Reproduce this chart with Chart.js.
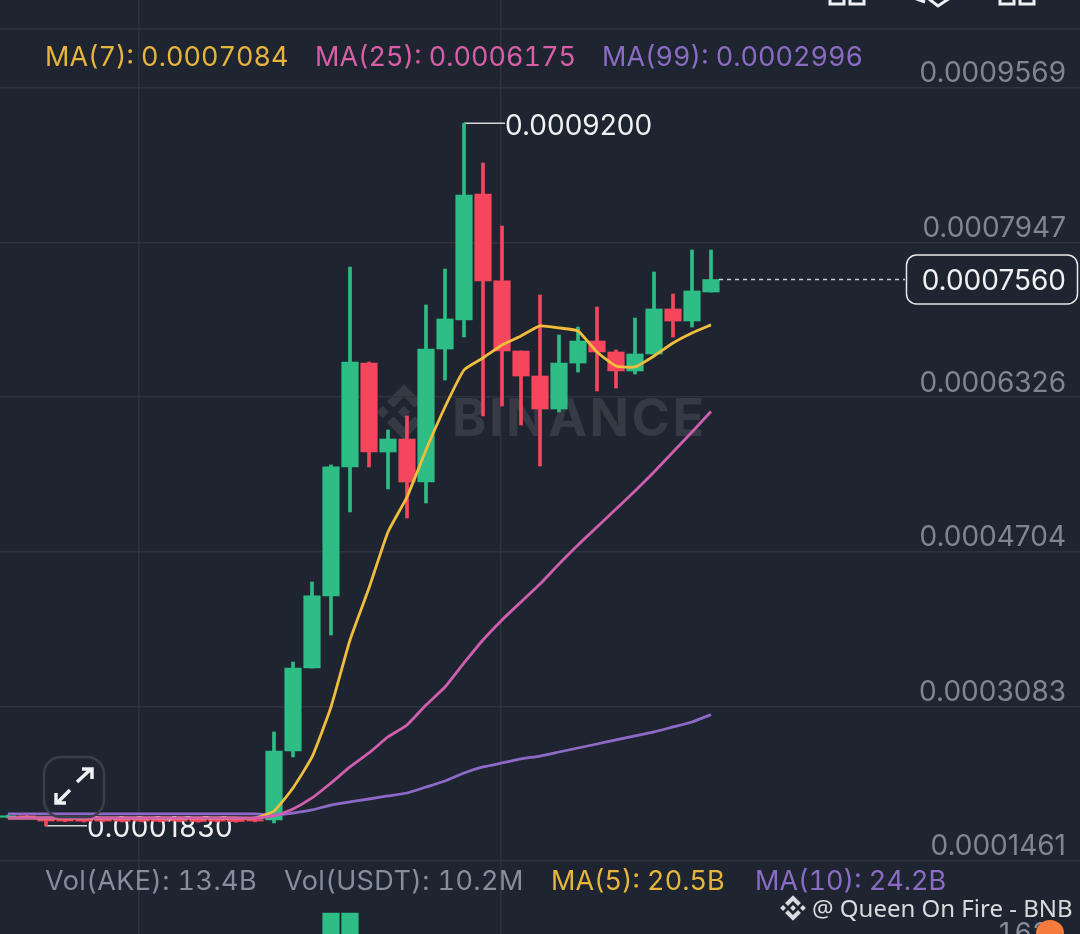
<!DOCTYPE html>
<html>
<head>
<meta charset="utf-8">
<title>AKE chart</title>
<script src="https://cdn.jsdelivr.net/npm/chart.js@4"></script>
<style>
  html, body { margin: 0; padding: 0; background: #1f2530; }
  #page { position: relative; width: 1080px; height: 934px; overflow: hidden; background: #1f2530; font-family: Inter, sans-serif; }
  #page canvas { position: absolute; left: 0; top: 0; }
  .txt { position: absolute; white-space: nowrap; font-size: 27px; line-height: 32px; color: #848e9c; z-index: 3; font-feature-settings: "tnum"; }
  .wide { letter-spacing: 0.4px; }
  .gold { color: #e7b53c; }
  .pink { color: #d85ea8; }
  .violet { color: #8a6cc4; }
  #topline { position: absolute; left: 0; top: 28px; width: 1080px; height: 2px; background: #2b3039; }
  #wmark { position: absolute; left: 452px; top: 387px; font-size: 52px; line-height: 62px; font-weight: 700; letter-spacing: 2.5px; color: #353a44; }
  #wlogo { position: absolute; left: 376px; top: 384px; width: 56px; height: 56px; fill: #353a44; }
  #credit { position: absolute; left: 812px; top: 892px; font-family: "Noto Sans", sans-serif; font-size: 24px; line-height: 32px; color: #d8dadd; white-space: nowrap; z-index: 3; }
  #clogo { position: absolute; left: 780px; top: 895px; width: 26px; height: 26px; fill: #d8dadd; z-index: 3; }
  #blob { position: absolute; left: 1036px; top: 920px; width: 28px; height: 26px; border-radius: 50%; background: #f47b3c; z-index: 4; }
  #expand { position: absolute; left: 42px; top: 755px; width: 64px; height: 64px; z-index: 3; }
  #icons { position: absolute; left: 820px; top: 0; width: 230px; height: 10px; z-index: 3; }
</style>
</head>
<body>
<div id="page">
  <div id="topline"></div>
  <svg id="wlogo" viewBox="0 0 126 126"><path d="M38.73 53.2L63 28.93l24.28 24.28 14.12-14.12L63 .68 24.61 39.07zM.68 63l14.12-14.12L28.93 63 14.8 77.12zM38.73 72.8L63 97.07 87.28 72.8l14.13 14.11L63 125.32 24.61 86.93zM97.07 63l14.12-14.12L125.32 63l-14.13 14.12zM77.32 63L63 48.67 48.69 63 63 77.31z"/></svg>
  <div id="wmark">BINANCE</div>
  <canvas id="chart" width="1080" height="934"></canvas>

  <div class="txt gold" style="left:45px;top:41px">MA(7): 0.0007084</div>
  <div class="txt pink" style="left:315px;top:41px">MA(25): 0.0006175</div>
  <div class="txt violet" style="left:602px;top:41px">MA(99): 0.0002996</div>

  <div class="txt wide" style="left:45px;top:865px">Vol(AKE): 13.4B</div>
  <div class="txt wide" style="left:284px;top:865px">Vol(USDT): 10.2M</div>
  <div class="txt gold" style="left:551px;top:865px">MA(5): 20.5B</div>
  <div class="txt violet" style="left:755px;top:865px">MA(10): 24.2B</div>

  <svg id="clogo" viewBox="0 0 126 126"><path d="M38.73 53.2L63 28.93l24.28 24.28 14.12-14.12L63 .68 24.61 39.07zM.68 63l14.12-14.12L28.93 63 14.8 77.12zM38.73 72.8L63 97.07 87.28 72.8l14.13 14.11L63 125.32 24.61 86.93zM97.07 63l14.12-14.12L125.32 63l-14.13 14.12zM77.32 63L63 48.67 48.69 63 63 77.31z"/></svg>
  <div id="credit">@ Queen On Fire - BNB</div>
  <div class="txt" style="left:997px;top:917px">162</div>
  <div id="blob"></div>

  <svg id="expand" viewBox="0 0 64 64" fill="none">
    <rect x="2" y="2" width="60" height="60" rx="17" stroke="#3b3f49" stroke-width="2.5"/>
    <path d="M35 27L49 14M40 14h10v10M28 35L15 48M14 38v10h10" stroke="#eef0f2" stroke-width="3.5"/>
  </svg>

  <svg id="icons" viewBox="0 0 230 10" fill="none" stroke="#eef0f2" stroke-width="3">
    <path d="M10 -4V4H24V-4M30 -4V4H44V-4"/>
    <path d="M94 -2L105 2M130 -2L118 6L109 -1"/>
    <path d="M180 -4V4H194V-4M200 -4V4H214V-4"/>
  </svg>
</div>

<script>
// Candles, oldest first. x position of a candle is its index
const candleIndex = [0,1,2,3,4,5,6,7,8,9,10,11,12,13,14,15,16,17,18,19,20,21,22,23,24,25,26,27,28,29,30,31,32,33,34,35,36,37];

const opens = [0.0001920,0.0001935,0.0001915,0.0001902,0.0001900,0.0001902,0.0001898,0.0001900,0.0001902,0.0001898,0.0001900,0.0001902,0.0001898,0.0001895,
  0.0001891,0.0002615,0.0003485,0.0004241,0.0005594,0.0006684,0.0005751,0.0005887,0.0005436,0.0006831,0.0007136,0.0008457,0.0007545,0.0006810,
  0.0006548,0.0006202,0.0006684,0.0006915,0.0006800,0.0006601,0.0006779,0.0007251,0.0007125,0.0007429];
const closes = [0.0001935,0.0001915,0.0001880,0.0001880,0.0001878,0.0001880,0.0001878,0.0001880,0.0001878,0.0001880,0.0001875,0.0001878,0.0001875,0.0001880,
  0.0002615,0.0003485,0.0004241,0.0005594,0.0006695,0.0005751,0.0005887,0.0005436,0.0006831,0.0007146,0.0008447,0.0007545,0.0006810,0.0006548,
  0.0006202,0.0006684,0.0006915,0.0006800,0.0006601,0.0006779,0.0007251,0.0007125,0.0007440,0.0007560];
const highs = [0.0001943,0.0001943,0.0001923,0.0001910,0.0001908,0.0001910,0.0001906,0.0001908,0.0001910,0.0001906,0.0001908,0.0001910,0.0001906,0.0001903,
  0.0002814,0.0003548,0.0004387,0.0005615,0.0007691,0.0006695,0.0005982,0.0006129,0.0007293,0.0007670,0.0009200,0.0008782,0.0008121,0.0006810,
  0.0007398,0.0006978,0.0007062,0.0007272,0.0006821,0.0007156,0.0007639,0.0007408,0.0007870,0.0007870];
const lows = [0.0001912,0.0001907,0.0001830,0.0001872,0.0001870,0.0001872,0.0001870,0.0001872,0.0001870,0.0001872,0.0001867,0.0001870,0.0001867,0.0001872,
  0.0001860,0.0002552,0.0003485,0.0003831,0.0005122,0.0005594,0.0005363,0.0005059,0.0005216,0.0006506,0.0006957,0.0006129,0.0006233,0.0006034,
  0.0005604,0.0006171,0.0006590,0.0006391,0.0006422,0.0006569,0.0006779,0.0006957,0.0007062,0.0007429];

const ma7 = [0.0001912,0.0001912,0.0001912,0.0001912,0.0001912,0.0001912,0.0001912,0.0001912,0.0001912,0.0001912,0.0001912,0.0001912,0.0001912,0.0001912,
  0.0001985,0.0002227,0.0002552,0.0003076,0.0003779,0.0004324,0.0004912,0.0005279,0.0005772,0.0006223,0.0006611,0.0006737,0.0006873,0.0006968,
  0.0007073,0.0007052,0.0007020,0.0006800,0.0006653,0.0006643,0.0006758,0.0006894,0.0006999,0.0007084];
const ma25 = [0.0001912,0.0001912,0.0001912,0.0001912,0.0001912,0.0001912,0.0001912,0.0001912,0.0001912,0.0001912,0.0001912,0.0001912,0.0001912,0.0001912,
  0.0001933,0.0002006,0.0002122,0.0002279,0.0002447,0.0002594,0.0002762,0.0002887,0.0003097,0.0003286,0.0003538,0.0003779,0.0003989,0.0004178,
  0.0004366,0.0004576,0.0004776,0.0004964,0.0005153,0.0005342,0.0005541,0.0005751,0.0005961,0.0006175];
const ma99 = [0.0001954,0.0001954,0.0001954,0.0001954,0.0001954,0.0001954,0.0001954,0.0001954,0.0001954,0.0001954,0.0001954,0.0001954,0.0001954,0.0001954,
  0.0001943,0.0001964,0.0001996,0.0002048,0.0002080,0.0002111,0.0002143,0.0002174,0.0002237,0.0002300,0.0002384,0.0002447,0.0002489,0.0002531,
  0.0002562,0.0002604,0.0002646,0.0002688,0.0002730,0.0002772,0.0002814,0.0002867,0.0002919,0.0002996];

// Only the two tallest volume bars show above the bottom of the screenshot (in billions)
const volIndex = [17, 18];
const volValues = [204, 204];

const priceTicks = [0.0009569, 0.0007947, 0.0006326, 0.0004704, 0.0003083, 0.0001461];
const gridCandles = [6.9, 25.95];
const highPrice = 0.0009200;
const highIndex = 24;
const lowPrice = 0.0001830;
const lowIndex = 2;
const lastPrice = 0.0007560;

const UP = '#2ebd85';
const DOWN = '#f6465d';
const GRID = '#2e333b';
const FONT = '28px Inter, sans-serif';

function candleColor(ctx) {
  return closes[ctx.dataIndex] >= opens[ctx.dataIndex] ? UP : DOWN;
}

function lineSet(label, values, color, order) {
  return {
    type: 'line',
    label: label,
    data: candleIndex.map(i => ({ x: i, y: values[i] })),
    borderColor: color,
    borderWidth: 2.8,
    pointRadius: 0,
    tension: 0.15,
    order: order
  };
}

// Axes take no room: the plot fills the whole canvas like the app does
function noRoom(axis) {
  axis.width = axis.isHorizontal() ? axis.width : 0;
  axis.height = axis.isHorizontal() ? 0 : axis.height;
  axis.paddingTop = axis.paddingBottom = axis.paddingLeft = axis.paddingRight = 0;
}

// High / low labels sit under the candles and lines
const markerPlugin = {
  id: 'markers',
  beforeDatasetsDraw(chart) {
    const { ctx, scales } = chart;
    const hx = scales.x.getPixelForValue(highIndex);
    const hy = scales.y.getPixelForValue(highPrice);
    const lx = scales.x.getPixelForValue(lowIndex);
    const ly = scales.y.getPixelForValue(lowPrice);
    ctx.save();
    ctx.strokeStyle = '#d5d7da';
    ctx.lineWidth = 1.5;
    ctx.beginPath();
    ctx.moveTo(hx, hy);
    ctx.lineTo(hx + 41, hy);
    ctx.moveTo(lx, ly - 6);
    ctx.lineTo(lx, ly);
    ctx.lineTo(lx + 41, ly);
    ctx.stroke();
    ctx.fillStyle = '#f0f1f3';
    ctx.font = FONT;
    ctx.textAlign = 'left';
    ctx.textBaseline = 'middle';
    ctx.fillText(highPrice.toFixed(7), hx + 41, hy + 3);
    ctx.letterSpacing = '0.6px';  // the 1 in Inter is narrower than in the app font
    ctx.fillText(lowPrice.toFixed(7), lx + 41, ly + 3);
    ctx.restore();
  },
  afterDatasetsDraw(chart) {
    // Dashed last price line and its box on the right
    const { ctx, scales } = chart;
    const py = scales.y.getPixelForValue(lastPrice);
    const px = scales.x.getPixelForValue(candleIndex[candleIndex.length - 1]);
    ctx.save();
    ctx.strokeStyle = '#c8cbd0';
    ctx.lineWidth = 1.5;
    ctx.setLineDash([4, 4]);
    ctx.beginPath();
    ctx.moveTo(px + 8, py);
    ctx.lineTo(905, py);
    ctx.stroke();
    ctx.setLineDash([]);
    ctx.fillStyle = '#1f2530';
    ctx.strokeStyle = '#e6e7e9';
    ctx.beginPath();
    ctx.roundRect(906.5, py - 24.5, 171, 49, 10);
    ctx.fill();
    ctx.stroke();
    ctx.fillStyle = '#f0f1f3';
    ctx.font = FONT;
    ctx.textAlign = 'right';
    ctx.textBaseline = 'middle';
    ctx.fillText(lastPrice.toFixed(7), 1066, py + 2);
    ctx.restore();
  }
};

new Chart(document.getElementById('chart').getContext('2d'), {
  type: 'bar',
  data: {
    datasets: [
      lineSet('MA(25)', ma25, '#cf5fae', 1),
      lineSet('MA(7)', ma7, '#f0bd3c', 2),
      lineSet('MA(99)', ma99, '#8e6ac8', 3),
      {
        label: 'Bodies',
        data: candleIndex.map(i => ({ x: i, y: [opens[i], closes[i]] })),
        backgroundColor: candleColor,
        barThickness: 16.5,
        grouped: false,
        order: 4
      },
      {
        label: 'Wicks',
        data: candleIndex.map(i => ({ x: i, y: [lows[i], highs[i]] })),
        backgroundColor: candleColor,
        barThickness: 3,
        grouped: false,
        order: 5
      },
      {
        label: 'Volume',
        yAxisID: 'vol',
        data: volIndex.map((x, i) => ({ x: x, y: volValues[i] })),
        backgroundColor: UP,
        barThickness: 16.5,
        grouped: false,
        order: 6
      }
    ]
  },
  options: {
    responsive: false,
    animation: false,
    devicePixelRatio: 1,
    layout: { padding: 0 },
    plugins: { legend: { display: false }, tooltip: { enabled: false } },
    scales: {
      x: {
        type: 'linear',
        offset: false,
        min: -0.4211,
        max: 56.4211,
        afterBuildTicks: axis => { axis.ticks = gridCandles.map(v => ({ value: v })); },
        afterFit: noRoom,
        grid: { color: GRID, lineWidth: 1.5, offset: false, drawTicks: false },
        border: { display: false },
        ticks: { display: false }
      },
      y: {
        position: 'right',
        min: 0.0000695,
        max: 0.0010492,
        afterBuildTicks: axis => { axis.ticks = priceTicks.map(v => ({ value: v })); },
        afterFit: noRoom,
        grid: { color: GRID, lineWidth: 1.5, drawTicks: false },
        border: { display: false },
        ticks: {
          mirror: true,
          padding: -14,
          labelOffset: -14,
          autoSkip: false,
          color: '#7f8692',
          font: { family: 'Inter, sans-serif', size: 28 },
          callback: v => v.toFixed(7)
        }
      },
      vol: {
        display: false,
        min: 162,
        max: 2030
      }
    }
  },
  plugins: [markerPlugin]
});
</script>
</body>
</html>
